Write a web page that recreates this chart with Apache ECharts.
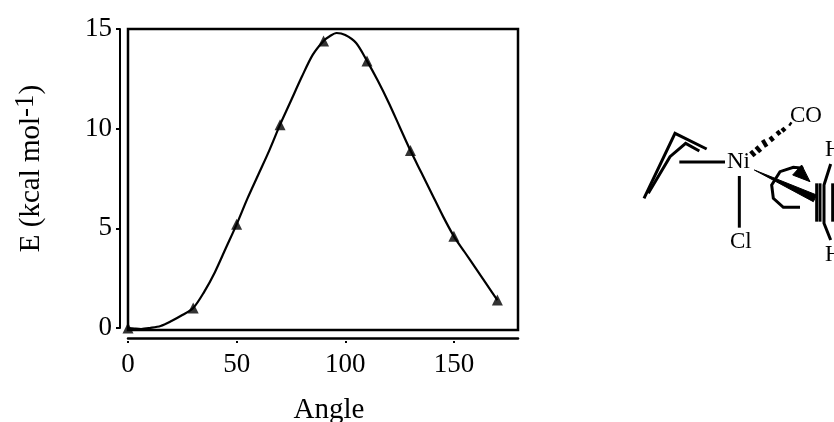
<!DOCTYPE html>
<html><head><meta charset="utf-8">
<style>html,body{margin:0;padding:0;background:#fff}#c{width:834px;height:422px}</style>
<script src="https://cdn.jsdelivr.net/npm/echarts@6/dist/echarts.min.js"></script>
</head><body><div id="c"></div>
<script>
const curveAngles = [0,3,6,10,15,20,25,30,35,40,45,50,55,60,65,70,75,80,85,90,93,96,100,105,110,115,120,125,130,135,140,145,150,155,160,165,170];
const curveEnergy = [0,-0.03,-0.05,0,0.1,0.35,0.65,1.0,1.8,2.8,4.0,5.2,6.5,7.7,8.9,10.2,11.4,12.6,13.7,14.4,14.65,14.8,14.7,14.3,13.4,12.4,11.3,10.1,8.9,7.8,6.7,5.6,4.6,3.8,3.0,2.2,1.4];
const markAngles = [0,30,50,70,90,110,130,150,170];
const markEnergy = [0,1.0,5.2,10.2,14.4,13.4,8.9,4.6,1.4];
const xTicks = [0,50,100,150];
const F = '"Liberation Serif","Times New Roman",serif';
const black = '#000';
const z = (x,y)=>[620+x/3, 90+y/3];
const pl = (pts,w)=>({type:'polyline',shape:{points:pts.map(p=>z(p[0],p[1]))},style:{stroke:black,lineWidth:w,fill:null}});
const pg = (pts)=>({type:'polygon',shape:{points:pts.map(p=>z(p[0],p[1]))},style:{fill:black,stroke:black,lineWidth:1}});
const tx = (s,x,y)=>({type:'text',x:x,y:y,style:{text:s,font:'23px '+F,fill:black,textAlign:'left',textVerticalAlign:'middle'}});
const hashes = [[[392,183],[405,198]],[[408,170],[422,186]],[[428,150],[440,170]],[[450,140],[460,153]],[[471,123],[480,134]],[[486,114],[495,124]],[[508,100],[514,104]]];
const chem = [
  pl([[72,325],[165,130],[260,177]],3),
  pl([[85,310],[150,200],[197,160],[238,183]],3),
  pl([[178,216],[315,216]],3),
  pl([[358,258],[358,413]],3),
  pg([[403,240],[590,315],[580,335]]),
  pl([[540,352],[490,352],[460,325],[455,285],[480,245],[520,232],[550,235]],3),
  pg([[545,225],[570,275],[518,255]]),
  pl([[590,280],[590,395]],3),
  pl([[600,280],[600,395]],3),
  pl([[638,280],[638,395]],3),
  pl([[632,222],[612,285],[612,400],[632,450]],3),
  tx('Ni',727,162), tx('CO',790,116), tx('Cl',730,242), tx('H',825,150), tx('H',825,255),
  ...hashes.map(h=>pl(h,4))
];
const chart = echarts.init(document.getElementById('c'),null,{renderer:'canvas'});
const gridPos = {left:128,right:316,top:29,outerBoundsMode:'none',containLabel:false};
chart.setOption({
  animation:false,
  backgroundColor:'#fff',
  grid:[
    {...gridPos,height:299,show:false},
    {...gridPos,height:301,show:true,borderColor:black,borderWidth:2.5,backgroundColor:'transparent'}
  ],
  xAxis:[
    {type:'value',gridIndex:0,position:'bottom',min:0,max:179.5,interval:50,offset:10,
     name:'Angle',nameLocation:'middle',nameGap:58,
     nameTextStyle:{fontFamily:F,fontSize:29,color:black,padding:[0,0,0,12]},
     axisLine:{show:true,onZero:false,lineStyle:{color:black,width:2.5}},
     axisTick:{show:false},splitLine:{show:false},
     axisLabel:{fontFamily:F,fontSize:27,color:black,margin:13,showMaxLabel:false}},
    {type:'value',gridIndex:0,position:'bottom',min:0,max:179.5,interval:50,offset:13,
     axisLine:{show:false,onZero:false},
     axisTick:{show:true,length:2,customValues:xTicks,lineStyle:{color:black,width:2}},
     axisLabel:{show:false},splitLine:{show:false}},
    {type:'value',gridIndex:1,min:0,max:179.5,show:false}
  ],
  yAxis:[
    {type:'value',gridIndex:0,min:0,max:15,interval:5,offset:8,
     name:'E (kcal mol{sup|-1})',nameLocation:'middle',nameGap:69,nameRotate:90,
     nameTextStyle:{fontFamily:F,fontSize:29,color:black,padding:[0,0,0,20],
       rich:{sup:{fontFamily:F,fontSize:27,color:black,padding:[0,0,12,0]}}},
     axisLine:{show:true,onZero:false,lineStyle:{color:black,width:2}},
     axisTick:{show:true,length:4,lineStyle:{color:black,width:2}},
     splitLine:{show:false},
     axisLabel:{fontFamily:F,fontSize:27,color:black,margin:8,padding:[0,0,4,0]}},
    {type:'value',gridIndex:1,min:0,max:15,show:false}
  ],
  series:[
    {type:'line',xAxisIndex:0,yAxisIndex:0,smooth:0.3,symbol:'none',clip:false,
     lineStyle:{color:black,width:2.2},
     data:curveAngles.map((a,i)=>[a,curveEnergy[i]])},
    {type:'scatter',xAxisIndex:0,yAxisIndex:0,symbol:'triangle',symbolSize:11,clip:false,
     itemStyle:{color:black},
     data:markAngles.map((a,i)=>[a,markEnergy[i]])}
  ],
  graphic:chem
});
</script></body></html>
